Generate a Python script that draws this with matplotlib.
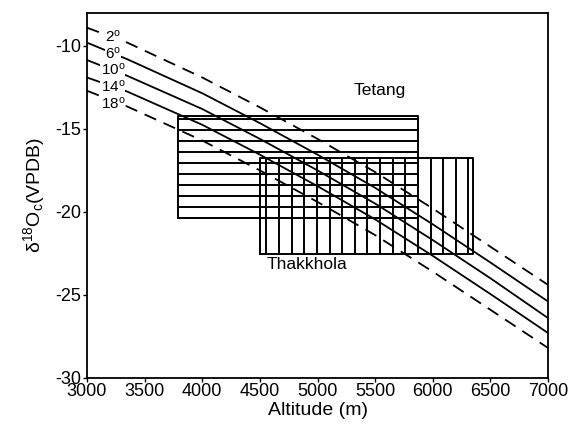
import numpy as np
import matplotlib.pyplot as plt

plt.rcParams['font.family'] = ['Liberation Sans', 'DejaVu Sans']
plt.rcParams['mathtext.fontset'] = 'custom'
plt.rcParams['mathtext.rm'] = 'Liberation Sans'
plt.rcParams['mathtext.it'] = 'Liberation Sans:italic'
plt.rcParams['axes.unicode_minus'] = False

# altitude points where the curves were read (m)
altitude = [3000, 3350, 4000, 4500, 5000, 5500, 6000, 6500, 7000]
# d18O of calcite for each formation temperature
d18o_2 = [-8.9, -9.8, -11.9, -13.7, -15.6, -17.6, -19.8, -22.1, -24.4]
d18o_6 = [-9.8, -10.8, -12.85, -14.65, -16.55, -18.55, -20.75, -23.05, -25.4]
d18o_10 = [-10.85, -11.8, -13.8, -15.6, -17.5, -19.5, -21.7, -24.0, -26.4]
d18o_14 = [-11.9, -12.75, -14.75, -16.55, -18.45, -20.45, -22.65, -24.95, -27.3]
d18o_18 = [-12.7, -13.65, -15.7, -17.5, -19.4, -21.4, -23.6, -25.9, -28.2]
temp_labels = ['2', '6', '10', '14', '18']
label_y = [-9.45, -10.45, -11.45, -12.45, -13.45]

# altitude / isotope ranges of the two basins
tetang_x = [3790, 5872]
tetang_y = [-20.35, -14.25]
thak_x = [4504, 6352]
thak_y = [-22.55, -16.73]

fig = plt.figure(figsize=(5.8, 4.26), dpi=100)
ax = fig.add_axes([0.150, 0.113, 0.795, 0.857])

# Tetang box, horizontal hatching
lw_box = 1.4
ax.plot([tetang_x[0], tetang_x[1], tetang_x[1], tetang_x[0], tetang_x[0]],
        [tetang_y[0], tetang_y[0], tetang_y[1], tetang_y[1], tetang_y[0]],
        color='black', lw=lw_box)
for yy in np.linspace(tetang_y[1] - 0.17, tetang_y[0], 10):
    ax.plot(tetang_x, [yy, yy], color='black', lw=lw_box)

# Thakkhola box, vertical hatching
ax.plot([thak_x[0], thak_x[1], thak_x[1], thak_x[0], thak_x[0]],
        [thak_y[0], thak_y[0], thak_y[1], thak_y[1], thak_y[0]],
        color='black', lw=lw_box)
for xx in np.linspace(thak_x[0] + 52, thak_x[1] - 43, 17):
    ax.plot([xx, xx], thak_y, color='black', lw=lw_box)

# temperature curves
curves = [d18o_2, d18o_6, d18o_10, d18o_14, d18o_18]
for i, vals in enumerate(curves):
    if i in (0, 4):
        ax.plot(altitude, vals, color='black', lw=1.3, dashes=(7, 4.5))
    else:
        ax.plot(altitude, vals, color='black', lw=1.3)
    ax.text(3225, label_y[i], temp_labels[i] + r'$^\mathrm{o}$', fontsize=11,
            ha='center', va='center',
            bbox=dict(facecolor='white', edgecolor='none', pad=0.1))

ax.text(5542, -12.7, 'Tetang', fontsize=12.5, ha='center', va='center')
ax.text(4909, -23.15, 'Thakkhola', fontsize=12.5, ha='center', va='center')

ax.set_xlim(3000, 7000)
ax.set_ylim(-30, -8)
ax.set_xticks(np.arange(3000, 7001, 500))
ax.set_yticks(np.arange(-30, -9, 5))
ax.tick_params(direction='out', length=3, width=1, labelsize=13, pad=1)
for s in ax.spines.values():
    s.set_linewidth(1.3)

ax.set_xlabel('Altitude (m)', fontsize=14, labelpad=1)
ax.set_ylabel('δ$^{18}$O$_\\mathrm{c}$(VPDB)', fontsize=14, labelpad=6)

fig.savefig('out.png', dpi=100)
